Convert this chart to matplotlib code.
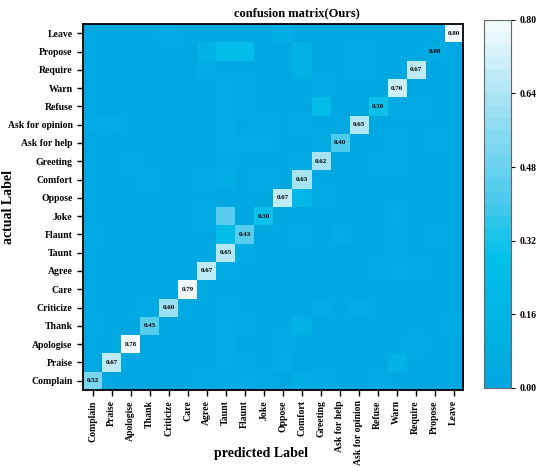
import matplotlib
matplotlib.use("Agg")
import matplotlib.pyplot as plt
import numpy as np
from matplotlib.colors import LinearSegmentedColormap

plt.rcParams['font.family'] = ['Liberation Serif', 'DejaVu Serif']
plt.rcParams['font.weight'] = 'bold'

labels = ["Complain", "Praise", "Apologise", "Thank", "Criticize", "Care", "Agree",
          "Taunt", "Flaunt", "Joke", "Oppose", "Comfort", "Greeting", "Ask for help",
          "Ask for opinion", "Refuse", "Warn", "Require", "Propose", "Leave"]

# diagonal (correct) rates, same order as labels
diag = [0.52, 0.67, 0.78, 0.45, 0.60, 0.79, 0.67, 0.65, 0.43, 0.30,
        0.67, 0.63, 0.62, 0.40, 0.65, 0.30, 0.70, 0.67, 0.08, 0.80]

# off-diagonal confusions: actual -> {predicted: rate}
offdiag = {
    "Leave": {"Criticize": 0.05, "Oppose": 0.10},
    "Propose": {"Agree": 0.15, "Taunt": 0.25, "Flaunt": 0.25, "Comfort": 0.12, "Ask for opinion": 0.03},
    "Require": {"Agree": 0.08, "Comfort": 0.12, "Ask for opinion": 0.03},
    "Warn": {"Taunt": 0.08, "Flaunt": 0.05, "Greeting": 0.03},
    "Refuse": {"Taunt": 0.07, "Flaunt": 0.05, "Greeting": 0.25, "Warn": 0.05, "Require": 0.05},
    "Ask for opinion": {"Complain": 0.07, "Praise": 0.07, "Taunt": 0.08, "Joke": 0.05, "Comfort": 0.04},
    "Ask for help": {"Taunt": 0.07, "Flaunt": 0.07, "Joke": 0.07, "Greeting": 0.03, "Warn": 0.05, "Propose": 0.05},
    "Greeting": {"Apologise": 0.05, "Taunt": 0.03, "Comfort": 0.04, "Refuse": 0.03, "Warn": 0.03},
    "Comfort": {"Thank": 0.05, "Agree": 0.05, "Taunt": 0.10, "Joke": 0.04, "Ask for opinion": 0.02},
    "Oppose": {"Comfort": 0.20, "Greeting": 0.05},
    "Joke": {"Agree": 0.04, "Taunt": 0.45, "Warn": 0.07},
    "Flaunt": {"Complain": 0.05, "Taunt": 0.25, "Comfort": 0.04, "Ask for help": 0.07, "Warn": 0.04, "Propose": 0.04},
    "Taunt": {"Flaunt": 0.04, "Warn": 0.03},
    "Agree": {"Taunt": 0.04, "Refuse": 0.05, "Warn": 0.08, "Require": 0.04},
    "Care": {"Criticize": 0.02, "Flaunt": 0.02},
    "Criticize": {"Thank": 0.04, "Taunt": 0.05, "Greeting": 0.07, "Ask for opinion": 0.07},
    "Thank": {"Complain": 0.04, "Taunt": 0.08, "Flaunt": 0.03, "Comfort": 0.12, "Leave": 0.05},
    "Apologise": {"Taunt": 0.07, "Oppose": 0.04, "Require": 0.03},
    "Praise": {"Taunt": 0.07, "Flaunt": 0.04, "Oppose": 0.06, "Warn": 0.14},
    "Complain": {"Agree": 0.04, "Taunt": 0.03, "Flaunt": 0.08, "Joke": 0.04, "Comfort": 0.10,
                 "Greeting": 0.05, "Refuse": 0.03},
}

n = len(labels)
cm = np.zeros((n, n))
for i in range(n):
    cm[i, i] = diag[i]
for actual, row in offdiag.items():
    for pred, v in row.items():
        cm[labels.index(actual), labels.index(pred)] = v

cmap = LinearSegmentedColormap.from_list(
    "ours", [(0.0, "#00a8e2"), (0.35, "#00bfe8"), (0.5, "#45c9ec"),
             (0.6, "#68d2ef"), (0.8, "#a8e4f4"), (1.0, "#f2fbfc")], N=30)

fig = plt.figure(figsize=(5.5, 4.72), dpi=100)
ax = fig.add_axes([0.151, 0.174, 0.691, 0.775])
cax = fig.add_axes([0.88, 0.178, 0.049, 0.78])

im = ax.imshow(cm, cmap=cmap, vmin=0, vmax=0.8, origin='lower', aspect='auto')

for i in range(n):
    ax.text(i, i, "%.2f" % cm[i, i], ha='center', va='center', fontsize=5, fontweight='bold')

ax.set_xticks(range(n))
ax.set_yticks(range(n))
ax.set_xticklabels(labels, rotation=90, fontsize=7, fontweight='bold')
ax.set_yticklabels(labels, fontsize=7, fontweight='bold')
ax.tick_params(direction='out', length=4, width=1)
for s in ax.spines.values():
    s.set_linewidth(1.3)

# title is centred over the matrix plus colorbar
fig.text(0.54, 0.971, "confusion matrix(Ours)", ha='center', va='center',
         fontsize=9, fontweight='bold')
ax.set_xlabel("predicted Label", fontsize=10, fontweight='bold')
ax.xaxis.set_label_coords(0.468, -0.155)
ax.set_ylabel("actual Label", fontsize=10, fontweight='bold')
ax.yaxis.set_label_coords(-0.18, 0.5)

cb = fig.colorbar(im, cax=cax, ticks=[0.0, 0.16, 0.32, 0.48, 0.64, 0.80])
cb.ax.set_yticklabels(["0.00", "0.16", "0.32", "0.48", "0.64", "0.80"], fontsize=7, fontweight='bold')
cb.outline.set_edgecolor('#666666')
cb.outline.set_linewidth(0.8)
cb.ax.tick_params(length=3, width=0.8)

fig.savefig("out.png", dpi=100)
